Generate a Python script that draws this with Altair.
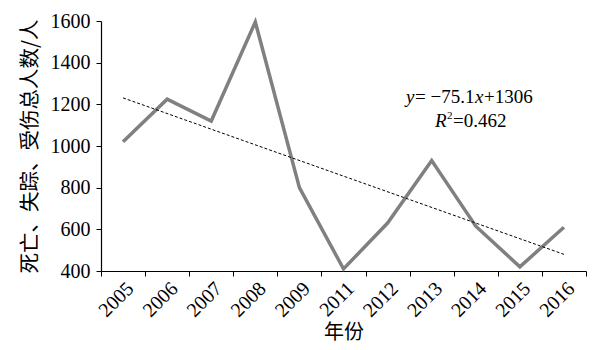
import altair as alt
import pandas as pd

years = ["2005", "2006", "2007", "2008", "2009", "2011", "2012", "2013", "2014", "2015", "2016"]
casualties = [1020, 1225, 1120, 1595, 800, 410, 630, 930, 615, 420, 610]

# Linear trend shown on the chart: y = -75.1x + 1306 (x = 1..11)
slope = -75.1
intercept = 1306
trend_years = [years[0], years[-1]]
trend_vals = [slope * 1 + intercept, slope * len(years) + intercept]

df = pd.DataFrame({"year": years, "value": casualties})
tdf = pd.DataFrame({"year": trend_years, "value": trend_vals})

serif = "Liberation Serif"
cjk = "Noto Sans CJK SC"

x = alt.X("year:O", sort=years, title="年份",
          scale=alt.Scale(paddingInner=0, paddingOuter=0),
          axis=alt.Axis(labelAngle=-45, tickBand="extent", labelFont=serif,
                        labelFontSize=20, titleFont=cjk, titleFontSize=20,
                        titleFontWeight="normal", titlePadding=2,
                        labelPadding=2))
y = alt.Y("value:Q", title="死亡、失踪、受伤总人数/人",
          scale=alt.Scale(domain=[400, 1600], nice=False),
          axis=alt.Axis(values=[400, 600, 800, 1000, 1200, 1400, 1600],
                        format="d",
                        labelFont=serif, labelFontSize=20, titleFont=cjk,
                        titleFontSize=20.5, titleFontWeight="normal",
                        titlePadding=10, labelPadding=6))

line = alt.Chart(df).mark_line(color="#808080", strokeWidth=3.5).encode(x=x, y=y)
trend = alt.Chart(tdf).mark_line(color="black", strokeWidth=1,
                                 strokeDash=[3, 2]).encode(x=x, y=y)

def txt(s, px, py, italic=False, align="left", size=19):
    return alt.Chart(pd.DataFrame({"t": [s]})).mark_text(
        font=serif, fontSize=size, fontStyle="italic" if italic else "normal",
        align=align, baseline="middle", color="black").encode(
        text="t:N", x=alt.value(px), y=alt.value(py))

eq = (txt("y", 305, 76, italic=True) + txt("= \u221275.1", 314, 76)
      + txt("x", 374, 76, italic=True) + txt("+1306", 383, 76)
      + txt("R", 334, 100, italic=True) + txt("2", 346, 95, size=11)
      + txt("=0.462", 352, 100))

chart = alt.layer(line, trend, eq).properties(
    width=485, height=250,
    padding={"left": 93, "top": 13, "right": 22, "bottom": 77},
    autosize=alt.AutoSizeParams(type="none"),
).configure_view(stroke=None).configure_axis(
    grid=False, domainColor="black", tickColor="black", labelColor="black",
    titleColor="black", tickSize=5, domainWidth=1.2)

chart.save("out.html", embed_options={"renderer": "svg", "actions": False})
